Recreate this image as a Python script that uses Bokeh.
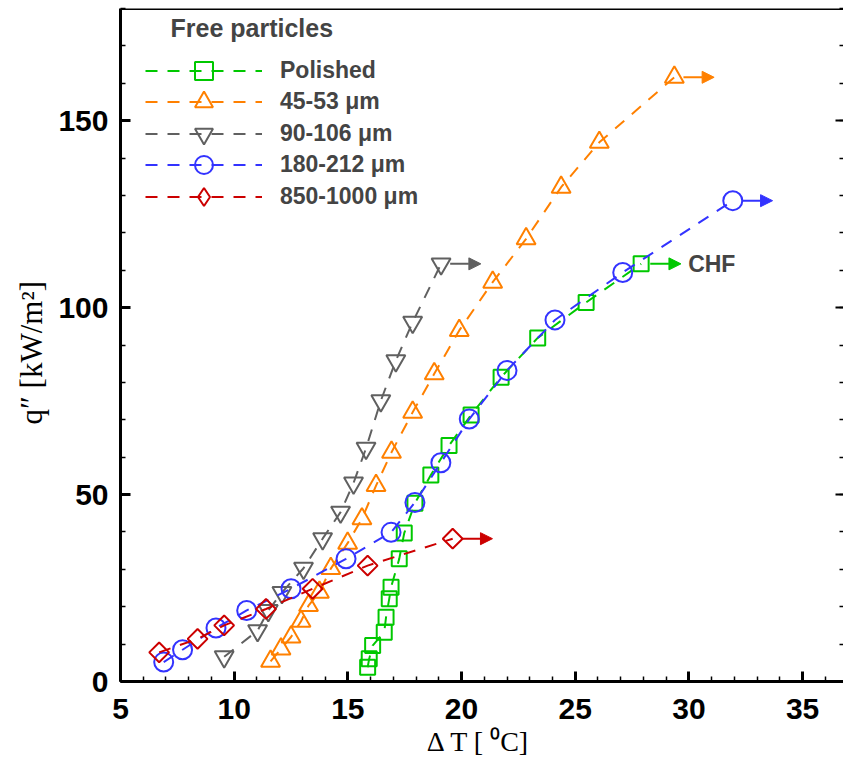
import numpy as np
from bokeh.plotting import figure
from bokeh.models import (SingleIntervalTicker, LinearAxis, Range1d, Legend,
                          LegendItem, Arrow, NormalHead, Label, Span)
from bokeh.embed import file_html
from bokeh.resources import INLINE

# ---------------- data ----------------
series_names = ["Polished", "45-53 μm", "90-106 μm", "180-212 μm", "850-1000 μm"]

polished_x = [15.87, 15.94, 16.09, 16.6, 16.68, 16.82, 16.9, 17.26, 17.48, 17.95,
              18.65, 19.45, 20.42, 21.74, 23.35, 25.48, 27.9]
polished_y = [3.8, 6.1, 9.6, 13.2, 17.2, 22.1, 25.2, 32.8, 39.7, 47.7,
              55.2, 63.1, 71.3, 81.4, 91.9, 101.4, 111.7]

p45_x = [11.6, 12.06, 12.5, 12.94, 13.27, 13.75, 14.25, 14.99, 15.62, 16.24,
         16.92, 17.85, 18.8, 19.9, 21.37, 22.84, 24.38, 26.06, 29.36]
p45_y = [5.4, 8.7, 11.9, 16.1, 20.3, 23.9, 30.2, 37.0, 43.5, 52.4,
         61.3, 72.0, 82.3, 93.9, 106.8, 118.4, 132.2, 144.2, 161.6]

p90_x = [9.56, 11.03, 11.5, 12.1, 13.05, 13.89, 14.68, 15.25, 15.8, 16.45,
         17.11, 17.85, 19.1]
p90_y = [6.6, 13.6, 19.0, 23.8, 30.3, 38.2, 45.3, 53.1, 62.4, 75.1,
         85.8, 96.1, 111.7]

p180_x = [6.9, 7.73, 9.2, 10.55, 12.5, 14.92, 16.9, 17.95, 19.09, 20.34,
          22.0, 24.11, 27.09, 31.93]
p180_y = [5.2, 8.5, 14.3, 19.0, 24.8, 32.8, 39.9, 47.9, 58.5, 70.2,
          83.2, 96.7, 109.4, 128.6]

p850_x = [6.7, 8.39, 9.56, 11.4, 13.45, 15.87, 19.61]
p850_y = [7.8, 11.4, 15.0, 19.4, 24.8, 31.0, 38.2]

x_ticks_interval = 5
y_ticks_interval = 50

series = [
    (series_names[0], polished_x, polished_y, "#00C800", "square", 15, 0.0, "square"),
    (series_names[1], p45_x, p45_y, "#FF8000", "triangle", 19, 0.0, "triangle"),
    (series_names[2], p90_x, p90_y, "#606060", "inverted_triangle", 19, 0.0, "inverted_triangle"),
    (series_names[3], p180_x, p180_y, "#3333FF", "circle", 19, 0.0, "circle"),
    (series_names[4], p850_x, p850_y, "#CC0000", "square", 14, np.pi / 4, "diamond"),
]

# ---------------- figure ----------------
p = figure(width=843, height=770, output_backend="svg", toolbar_location=None,
           x_range=Range1d(5, 36.8), y_range=Range1d(0, 180),
           min_border_left=120, min_border_right=0, min_border_top=8,
           min_border_bottom=89, background_fill_color="white",
           border_fill_color="white")
p.grid.visible = False
p.outline_line_color = None

tick_font = "Liberation Sans"
serif = "Liberation Serif"
for ax in (p.xaxis[0], p.yaxis[0]):
    ax.axis_line_width = 3
    ax.axis_line_color = "black"
    ax.major_tick_in = 10
    ax.major_tick_out = 0
    ax.minor_tick_in = 5
    ax.minor_tick_out = 0
    ax.major_tick_line_width = 3
    ax.minor_tick_line_width = 1.5
    ax.major_label_text_font = tick_font
    ax.major_label_text_font_style = "bold"
    ax.major_label_text_font_size = "30px"
    ax.major_label_text_color = "black"
    ax.axis_label_text_font = serif
    ax.axis_label_text_font_style = "normal"
    ax.axis_label_text_color = "black"
p.xaxis.ticker = SingleIntervalTicker(interval=x_ticks_interval, num_minor_ticks=5)
p.yaxis.ticker = SingleIntervalTicker(interval=y_ticks_interval, num_minor_ticks=5)
p.yaxis.major_label_standoff = 12
p.xaxis.major_label_standoff = 17
p.xaxis.axis_label = "Δ  T [ ⁰C]"
p.xaxis.axis_label_text_font_size = "28px"
p.xaxis.axis_label_standoff = 4
p.yaxis.axis_label = "q″   [kW/m²]"
p.yaxis.axis_label_text_font_size = "31px"
p.yaxis.axis_label_standoff = 6

raxis = LinearAxis(ticker=SingleIntervalTicker(interval=y_ticks_interval, num_minor_ticks=5),
                   major_label_text_font_size="1px", major_label_text_color=None,
                   major_label_standoff=0,
                   axis_line_color=None, major_tick_in=8, major_tick_out=0,
                   minor_tick_in=4, minor_tick_out=0, major_tick_line_width=2,
                   minor_tick_line_width=1.5)
p.add_layout(raxis, "right")

p.add_layout(Span(location=180, dimension="width", line_color="black", line_width=3))

# ---------------- series ----------------
row_centers = [70, 101.7, 133, 164.5, 196.5]   # legend row centres (px from top)
for i, (name, xs, ys, col, mk, sz, ang, legmk) in enumerate(series):
    lr = p.line(xs, ys, line_color=col, line_width=2, line_dash="12 10")
    sr = p.scatter(xs, ys, marker=mk, size=sz, angle=ang, line_color=col,
                   fill_color=None, line_width=2)
    rends = [lr, sr]
    if legmk != mk:
        # legend-only key glyph (not drawn in the plot area)
        dummy = p.scatter([float("nan")], [float("nan")], marker=legmk, size=sz,
                          line_color=col, fill_color=None, line_width=2)
        rends = [lr, dummy]
    p.add_layout(Arrow(end=NormalHead(size=12, fill_color=col, line_color=col),
                       x_start=xs[-1] + 0.4, y_start=ys[-1],
                       x_end=xs[-1] + 1.75, y_end=ys[-1],
                       line_color=col, line_width=2))
    leg = Legend(items=[LegendItem(label=name, renderers=rends)],
                 location=(25, 658.5 - row_centers[i]), padding=0, margin=0,
                 spacing=0, glyph_width=117, glyph_height=45, label_height=45,
                 label_standoff=18, label_text_font=tick_font,
                 label_text_font_style="bold", label_text_font_size="23px",
                 border_line_color=None, background_fill_alpha=0)
    p.add_layout(leg)

p.add_layout(Label(x=50, y=654, x_units="screen", y_units="screen",
                   text="Free particles", text_font=tick_font,
                   text_font_style="bold", text_font_size="25px",
                   text_baseline="alphabetic"))

p.add_layout(Label(x=polished_x[-1], y=polished_y[-1], x_offset=47, text="CHF",
                   text_font=tick_font, text_font_style="bold",
                   text_font_size="23px", text_baseline="middle"))

open("out.html", "w").write(file_html(p, INLINE))
